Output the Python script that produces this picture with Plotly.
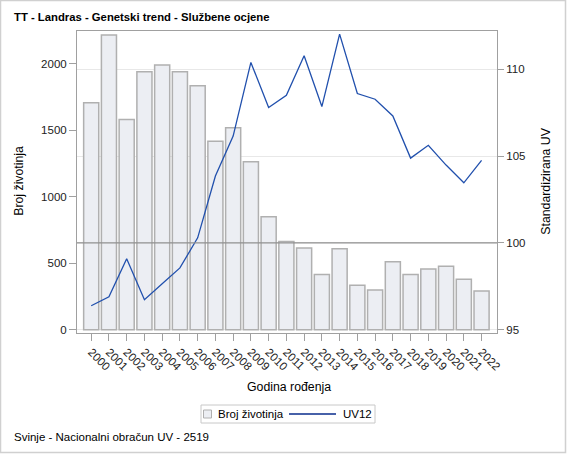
import plotly.graph_objects as go

years = [str(y) for y in range(2000, 2023)]
broj = [1707, 2216, 1581, 1940, 1990, 1940, 1835, 1416, 1519, 1263, 849, 663,
        615, 414, 608, 334, 299, 510, 414, 457, 477, 379, 291]
uv12 = [96.38, 96.89, 99.08, 96.73, 97.65, 98.56, 100.29, 103.85, 106.15, 110.39,
        107.79, 108.5, 110.77, 107.85, 112.02, 108.6, 108.27, 107.31, 104.88,
        105.62, 104.48, 103.46, 104.75]

W, H = 567, 454
L, R, T, B = 77, 497, 31, 333
pw, ph = R - L, B - T


def px_x(x):
    return (x - L) / pw


def px_y(y):
    return (B - y) / ph


def label(text, x, y, size=11.5, angle=0, anchor="left", bold=False):
    if bold:
        text = f"<b>{text}</b>"
    return dict(text=text, xref="paper", yref="paper", x=px_x(x), y=px_y(y),
                xanchor=anchor, yanchor="middle", showarrow=False, textangle=angle,
                font=dict(size=size, color="#000"))


FONT = "Liberation Sans, Arial, sans-serif"
AX = "#a0a0a0"
BAR_FILL = "#eceef3"
BAR_LINE = "#b0b0b0"
LINE_COL = "#2150ad"

fig = go.Figure()
fig.add_trace(go.Bar(
    x=years, y=broj, name="Broj životinja",
    marker=dict(color=BAR_FILL, line=dict(color=BAR_LINE, width=1.5)),
))
fig.add_trace(go.Scatter(
    x=years, y=uv12, name="UV12", yaxis="y2", mode="lines",
    line=dict(color=LINE_COL, width=1.3),
))

# legend drawn by hand to get SAS-like spacing
legend_shapes = [
    dict(type="rect", xref="paper", yref="paper",
         x0=px_x(201), x1=px_x(375), y0=px_y(405), y1=px_y(423),
         line=dict(color="#c8c8c8", width=1)),
    dict(type="rect", xref="paper", yref="paper",
         x0=px_x(203.5), x1=px_x(211.5), y0=px_y(410), y1=px_y(418),
         fillcolor=BAR_FILL, line=dict(color=BAR_LINE, width=1)),
    dict(type="line", xref="paper", yref="paper",
         x0=px_x(289), x1=px_x(336), y0=px_y(414), y1=px_y(414),
         line=dict(color="#0a2d8c", width=1.3)),
]

fig.update_layout(
    width=W, height=H,
    margin=dict(l=L, r=W - R, t=T, b=H - B, autoexpand=False),
    paper_bgcolor="white", plot_bgcolor="white",
    font=dict(family=FONT, size=11.5, color="#222"),
    bargap=0.15,
    showlegend=False,
    xaxis=dict(
        type="category", range=[-0.8, 22.87], tickangle=45, automargin=False,
        showline=True, linecolor=AX, mirror=True,
        ticks="outside", ticklen=7, tickcolor=AX,
        showgrid=False,
    ),
    yaxis=dict(
        range=[-25, 2246], tickvals=[0, 500, 1000, 1500, 2000], automargin=False,
        showline=True, linecolor=AX, mirror=True,
        ticks="outside", ticklen=7, tickcolor=AX,
        showgrid=False, zeroline=False,
    ),
    yaxis2=dict(
        overlaying="y", side="right", automargin=False,
        range=[94.81, 112.2], tickvals=[95, 100, 105, 110],
        ticks="outside", ticklen=6, tickcolor=AX,
        showgrid=True, gridcolor="#e8e8e8", zeroline=False,
    ),
    annotations=[
        label("TT - Landras - Genetski trend - Službene ocjene", 12, 17, size=11.3, bold=True),
        label("Svinje - Nacionalni obračun UV - 2519", 12, 437),
        label("Godina rođenja", 288.7, 386.5, size=12.3, anchor="center"),
        label("Broj životinja", 18.3, 180.5, size=12.3, angle=-90, anchor="center"),
        label("Standardizirana UV", 545.7, 181, size=12.3, angle=-90, anchor="center"),
        label("Broj životinja", 216, 414),
        label("UV12", 341, 414),
    ],
    shapes=[
        dict(type="line", xref="paper", yref="y2", x0=0, x1=1, y0=100, y1=100,
             line=dict(color="#909090", width=1.2)),
        dict(type="rect", xref="paper", yref="paper",
             x0=px_x(0.5), x1=px_x(W - 1.5), y0=px_y(0.5), y1=px_y(H - 1.5),
             line=dict(color="#d0d0d0", width=1.5), layer="below"),
    ] + legend_shapes,
)

# the page body has a default 8px margin; drop it so the figure sits at 0,0
fig.write_html(
    "out.html",
    config={"displayModeBar": False},
    post_script="document.body.style.margin = '0';",
)
